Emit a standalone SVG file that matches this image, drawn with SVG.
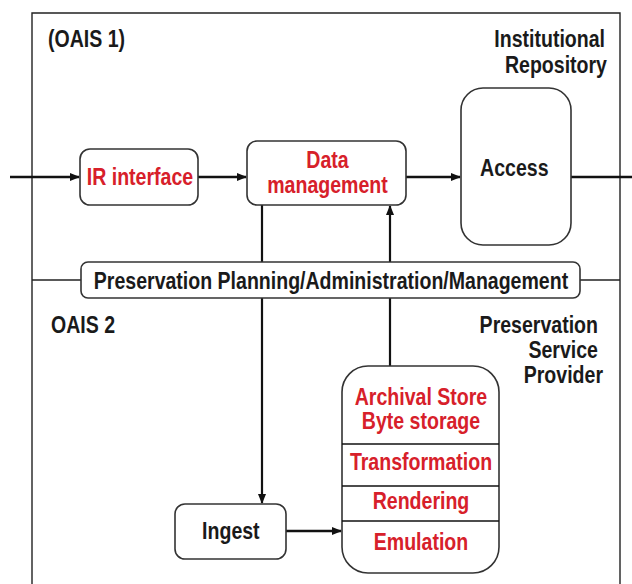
<svg xmlns="http://www.w3.org/2000/svg" width="632" height="584" viewBox="0 0 632 584">
<style>
.box{fill:#fff;stroke:#333;stroke-width:1.6}
.frame{fill:none;stroke:#222;stroke-width:1.4}
.t{font-family:"Liberation Sans",Arial,sans-serif;font-weight:bold;font-size:23px}
.red{fill:#d7202a}
.blk{fill:#1a1a1a}
.c{text-anchor:middle}
.r{text-anchor:end}
.ln{stroke:#111;fill:none}
</style>
<defs>
<marker id="ah" markerWidth="10" markerHeight="8" refX="9" refY="4" orient="auto" markerUnits="userSpaceOnUse">
<path d="M0,0 L10,4 L0,8 Z" fill="#111"/>
</marker>
</defs>
<rect width="632" height="584" fill="#fff"/>
<g id="frame">
<path class="frame" d="M32,600 V13 H620 V600"/>
<line class="frame" x1="32" y1="280" x2="620" y2="280"/>
</g>
<g id="labels">
<text class="t blk" transform="scale(0.85,1)" x="56.5" y="47.5">(OAIS 1)</text>
<text class="t blk r" transform="scale(0.85,1)" x="711.8" y="47.5">Institutional</text>
<text class="t blk r" transform="scale(0.85,1)" x="714.1" y="73.5">Repository</text>
<text class="t blk" transform="scale(0.85,1)" x="60" y="333.5">OAIS 2</text>
<text class="t blk r" transform="scale(0.85,1)" x="703.5" y="333.5">Preservation</text>
<text class="t blk r" transform="scale(0.85,1)" x="703.5" y="358.5">Service</text>
<text class="t blk r" transform="scale(0.85,1)" x="709.4" y="383.5">Provider</text>
</g>
<g id="connectors">
<line class="ln" stroke-width="2.5" x1="10" y1="177" x2="79" y2="177" marker-end="url(#ah)"/>
<line class="ln" stroke-width="2.5" x1="198" y1="177" x2="246" y2="177" marker-end="url(#ah)"/>
<line class="ln" stroke-width="2.5" x1="406" y1="177" x2="460" y2="177" marker-end="url(#ah)"/>
<line class="ln" stroke-width="2.5" x1="571" y1="177" x2="632" y2="177"/>
<line class="ln" stroke-width="2.2" x1="262" y1="205" x2="262" y2="503" marker-end="url(#ah)"/>
<line class="ln" stroke-width="2.2" x1="390" y1="366" x2="390" y2="206" marker-end="url(#ah)"/>
<line class="ln" stroke-width="2.5" x1="286" y1="531" x2="341" y2="531" marker-end="url(#ah)"/>
</g>
<g id="ir-interface">
<rect class="box" x="80" y="149" width="118" height="56" rx="10"/>
<text class="t red c" transform="scale(0.85,1)" x="164.7" y="185">IR interface</text>
</g>
<g id="data-management">
<rect class="box" x="247" y="141" width="159" height="64" rx="10"/>
<text class="t red c" transform="scale(0.85,1)" x="385.3" y="168">Data</text>
<text class="t red c" transform="scale(0.85,1)" x="385.3" y="193">management</text>
</g>
<g id="access">
<rect class="box" x="461" y="88" width="110" height="157" rx="22"/>
<text class="t blk c" transform="scale(0.85,1)" x="605.1" y="176">Access</text>
</g>
<g id="preservation-planning">
<rect class="box" x="81" y="262" width="499" height="36" rx="7"/>
<text class="t blk c" transform="scale(0.85,1)" x="389.4" y="289">Preservation Planning/Administration/Management</text>
</g>
<g id="archival-store">
<rect class="box" x="342" y="366" width="157" height="207" rx="26"/>
<line class="ln" stroke="#333" stroke-width="1.6" x1="342" y1="444" x2="499" y2="444"/>
<line class="ln" stroke="#333" stroke-width="1.6" x1="342" y1="486" x2="499" y2="486"/>
<line class="ln" stroke="#333" stroke-width="1.6" x1="342" y1="521" x2="499" y2="521"/>
<text class="t red c" transform="scale(0.85,1)" x="495.3" y="405">Archival Store</text>
<text class="t red c" transform="scale(0.85,1)" x="495.3" y="429">Byte storage</text>
<text class="t red c" transform="scale(0.85,1)" x="495.3" y="470">Transformation</text>
<text class="t red c" transform="scale(0.85,1)" x="495.3" y="509">Rendering</text>
<text class="t red c" transform="scale(0.85,1)" x="495.3" y="550">Emulation</text>
</g>
<g id="ingest">
<rect class="box" x="175" y="504" width="111" height="55" rx="10"/>
<text class="t blk c" transform="scale(0.85,1)" x="271.6" y="539">Ingest</text>
</g>
</svg>
